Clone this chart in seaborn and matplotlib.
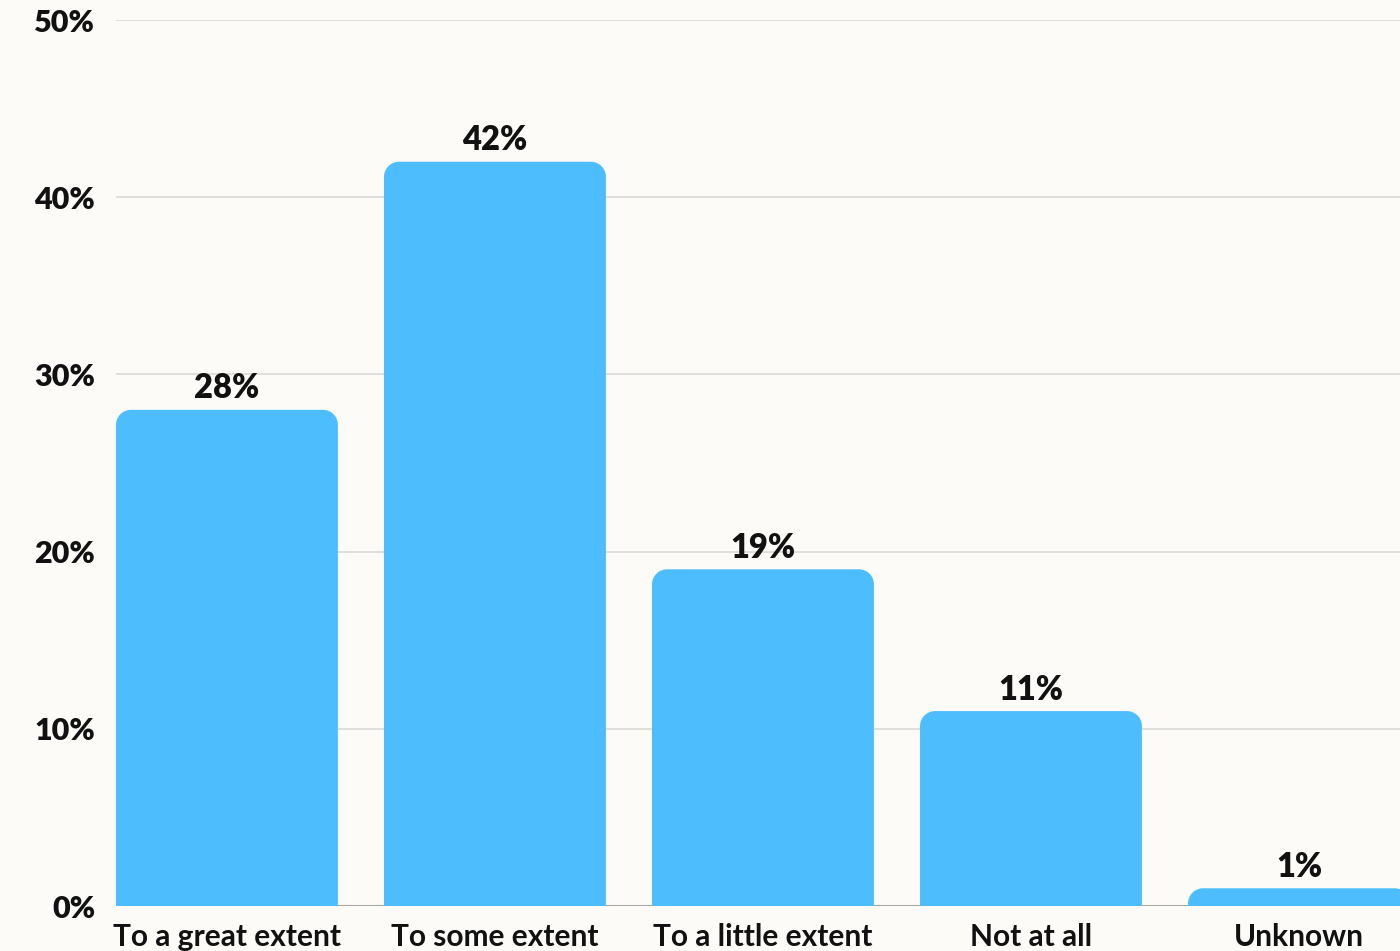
import matplotlib

matplotlib.use("Agg")

import matplotlib.pyplot as plt
import pandas as pd
import seaborn as sns
from matplotlib.patches import PathPatch
from matplotlib.path import Path

categories = ["To a great extent", "To some extent", "To a little extent", "Not at all", "Unknown"]
shares = [28, 42, 19, 11, 1]
y_ticks = [0, 10, 20, 30, 40, 50]
y_tick_labels = [f"{t}%" for t in y_ticks]

BG = "#FCFBF7"
BAR = "#4DBDFE"
GRID = "#DDDBD5"
TEXT = "#111111"


def rounded_top(x0, y0, w, h, rx, ry):
    # bar outline with the two top corners rounded, bottom left square
    ry = min(ry, h)
    k = 0.5523
    verts = [
        (x0, y0),
        (x0, y0 + h - ry),
        (x0, y0 + h - ry + k * ry), (x0 + rx - k * rx, y0 + h), (x0 + rx, y0 + h),
        (x0 + w - rx, y0 + h),
        (x0 + w - rx + k * rx, y0 + h), (x0 + w, y0 + h - ry + k * ry), (x0 + w, y0 + h - ry),
        (x0 + w, y0),
        (x0, y0),
    ]
    codes = [Path.MOVETO, Path.LINETO,
             Path.CURVE4, Path.CURVE4, Path.CURVE4,
             Path.LINETO,
             Path.CURVE4, Path.CURVE4, Path.CURVE4,
             Path.LINETO, Path.CLOSEPOLY]
    return Path(verts, codes)


df = pd.DataFrame({"category": categories, "share": shares})

sns.set_theme(style="white")
plt.rcParams["font.family"] = ["Lato", "DejaVu Sans"]

fig = plt.figure(figsize=(14, 9.51), dpi=100, facecolor=BG)
ax = fig.add_axes([116 / 1400, 1 - 906 / 951, 1 - 116 / 1400, (906 - 20) / 951])
ax.set_facecolor(BG)

sns.barplot(data=df, x="category", y="share", color=BAR, width=0.828,
            saturation=1, ax=ax, zorder=2)

ax.set_xlim(-0.414, (1400 - 227) / 268)
ax.set_ylim(0, 50)

px_x = 268.0  # pixels per category
px_y = 886.0 / 50  # pixels per percent
radius = 15
for bar, val in zip(ax.patches, shares):
    x0, w = bar.get_x(), bar.get_width()
    bar.set_visible(False)
    path = rounded_top(x0, 0, w, bar.get_height(), radius / px_x, radius / px_y)
    ax.add_patch(PathPatch(path, facecolor=BAR, edgecolor="none", zorder=2, clip_on=True))
    ax.annotate(f"{val}%", (x0 + w / 2, val), xytext=(0, 4), textcoords="offset points",
                ha="center", va="bottom", fontsize=23.5, fontweight="heavy", color=TEXT)

ax.set_yticks(y_ticks)
ax.set_yticklabels(y_tick_labels)
for t in y_ticks[1:]:
    ax.axhline(t, color=GRID, lw=1.3, zorder=1)
ax.axhline(0, color="#A9A7A2", lw=1.5, zorder=1)

ax.tick_params(axis="y", length=0, pad=15, labelsize=22, labelcolor=TEXT)
ax.tick_params(axis="x", length=0, pad=12, labelsize=21.5, labelcolor=TEXT)
for lab in ax.get_yticklabels():
    lab.set_fontweight("heavy")
for lab in ax.get_xticklabels():
    lab.set_fontweight("bold")

ax.set_xlabel("")
ax.set_ylabel("")
for s in ax.spines.values():
    s.set_visible(False)

fig.savefig("out.png", dpi=100, facecolor=BG)
